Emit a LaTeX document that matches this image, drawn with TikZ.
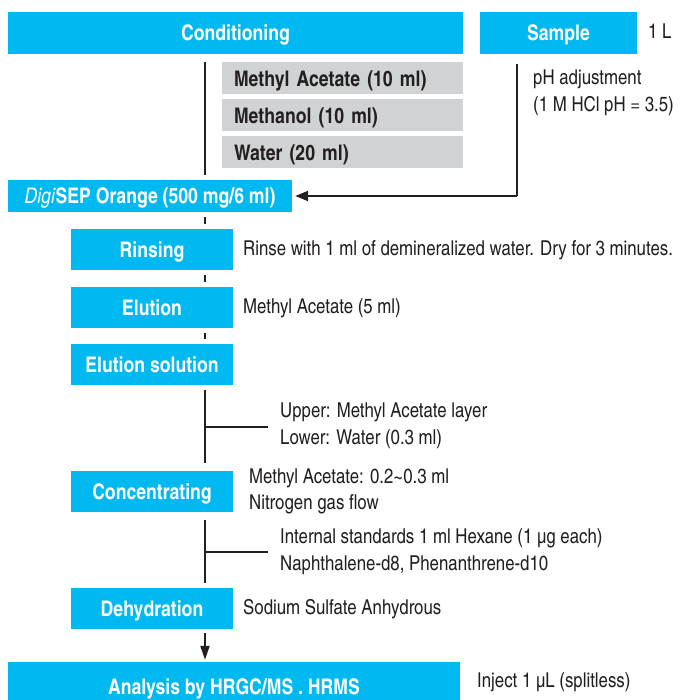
\documentclass[tikz,border=0pt]{standalone}
\usepackage{fontspec}
\setmainfont{TeX Gyre Heros Cn}
\usetikzlibrary{arrows.meta}
\definecolor{digiblue}{RGB}{0,185,240}
\definecolor{stepgray}{RGB}{209,210,212}
\definecolor{inkblack}{RGB}{35,31,32}
\tikzset{
  bluebox/.style={fill=digiblue, text=white, font=\fontsize{21.5}{24}\selectfont\bfseries, inner sep=0pt, minimum height=42pt, text height=16.5pt, text depth=0.5pt},
  graybox/.style={fill=stepgray, text=inkblack, font=\fontsize{21.5}{24}\selectfont\bfseries, inner sep=0pt, minimum width=241pt, minimum height=32pt, text width=217pt, align=left, text height=16.5pt, text depth=0.5pt},
  note/.style={anchor=west, inner sep=0pt, text=inkblack},
  flow/.style={draw=inkblack, line width=2pt},
}
\begin{document}
\begin{tikzpicture}[x=1pt, y=-1pt, >=Stealth, font=\fontsize{20.5}{24}\selectfont]
\useasboundingbox (0,0) rectangle (682,700);
% Kopfzeile
\node[bluebox, minimum width=455pt] (cond) at (235.5,33) {Conditioning};
\node[bluebox, minimum width=157pt] (sample) at (558.5,33) {Sample};
\node[note] (liter) at (648,31) {1 L};
% Konditionierung
\node[graybox] (mac) at (342.5,78.5) {Methyl Acetate (10 ml)};
\node[graybox] (meoh) at (342.5,115.5) {Methanol (10 ml)};
\node[graybox] (water) at (342.5,152.5) {Water (20 ml)};
\node[note] (ph) at (533,79) {pH adjustment};
\node[note] (hcl) at (533,106) {(1 M HCl pH = 3.5)};
% Kartusche
\node[bluebox, minimum width=284pt, minimum height=32pt] (digi) at (150,196) {\textit{\mdseries Digi}SEP Orange (500 mg/6 ml)};
\coordinate (sampledown) at (517,196);
% Schritte
\foreach \name/\y/\txt in {rinse/249.5/Rinsing, elu/307.5/Elution, elusol/364.5/Elution solution, conc/491/Concentrating, dehyd/608.5/Dehydration}
  \node[bluebox, minimum width=162pt, minimum height=41pt] (\name) at (152,\y) {\txt};
\node[note] (rinsetxt) at (243,250) {Rinse with 1 ml of demineralized water. Dry for 3 minutes.};
\node[note] (elutxt) at (243,308) {Methyl Acetate (5 ml)};
\node[note] (upper) at (280,412) {Upper: Methyl Acetate layer};
\node[note] (lower) at (280,439) {Lower: Water (0.3 ml)};
\node[note] (conca) at (249,478) {Methyl Acetate: 0.2\char"007E 0.3 ml};
\node[note] (concb) at (249,504) {Nitrogen gas flow};
\node[note] (istd) at (280,538) {Internal standards 1 ml Hexane (1 µg each)};
\node[note] (istdb) at (280,565) {Naphthalene-d8, Phenanthrene-d10};
\node[note] (dehydtxt) at (243,609) {Sodium Sulfate Anhydrous};
% Analyse
\node[bluebox, minimum width=452pt, minimum height=48pt] (hrms) at (234,686) {Analysis by HRGC/MS . HRMS};
\node[note] (inject) at (477,682) {Inject 1 µL (splitless)};
% Verbindungen
\coordinate (spine) at (205,0);
\draw[flow, shorten <=8pt, shorten >=5pt] (cond.south -| spine) -- (digi.north -| spine);
\draw[flow, shorten <=10pt] (sample.south -| sampledown) -- (sampledown);
\draw[flow, -{Triangle[length=13pt,width=10pt]}, shorten >=3pt] (sampledown) -- (digi.east);
\foreach \a/\b in {digi/rinse, rinse/elu, elu/elusol}
  \draw[flow, shorten <=5pt, shorten >=5pt] (\a.south -| spine) -- (\b.north -| spine);
\draw[flow, shorten <=5pt, shorten >=7pt] (elusol.south -| spine) -- (conc.north -| spine);
\draw[flow, shorten <=8pt, shorten >=5pt] (conc.south -| spine) -- (dehyd.north -| spine);
\coordinate (splitA) at (205,427);
\coordinate (splitB) at (205,552);
\draw[flow] (splitA) -- (268,427);
\draw[flow] (splitB) -- (268,552);
\draw[flow, -{Triangle[length=14pt,width=9pt]}, shorten <=4pt, shorten >=2pt] (dehyd.south -| spine) -- (hrms.north -| spine);
\end{tikzpicture}
\end{document}
